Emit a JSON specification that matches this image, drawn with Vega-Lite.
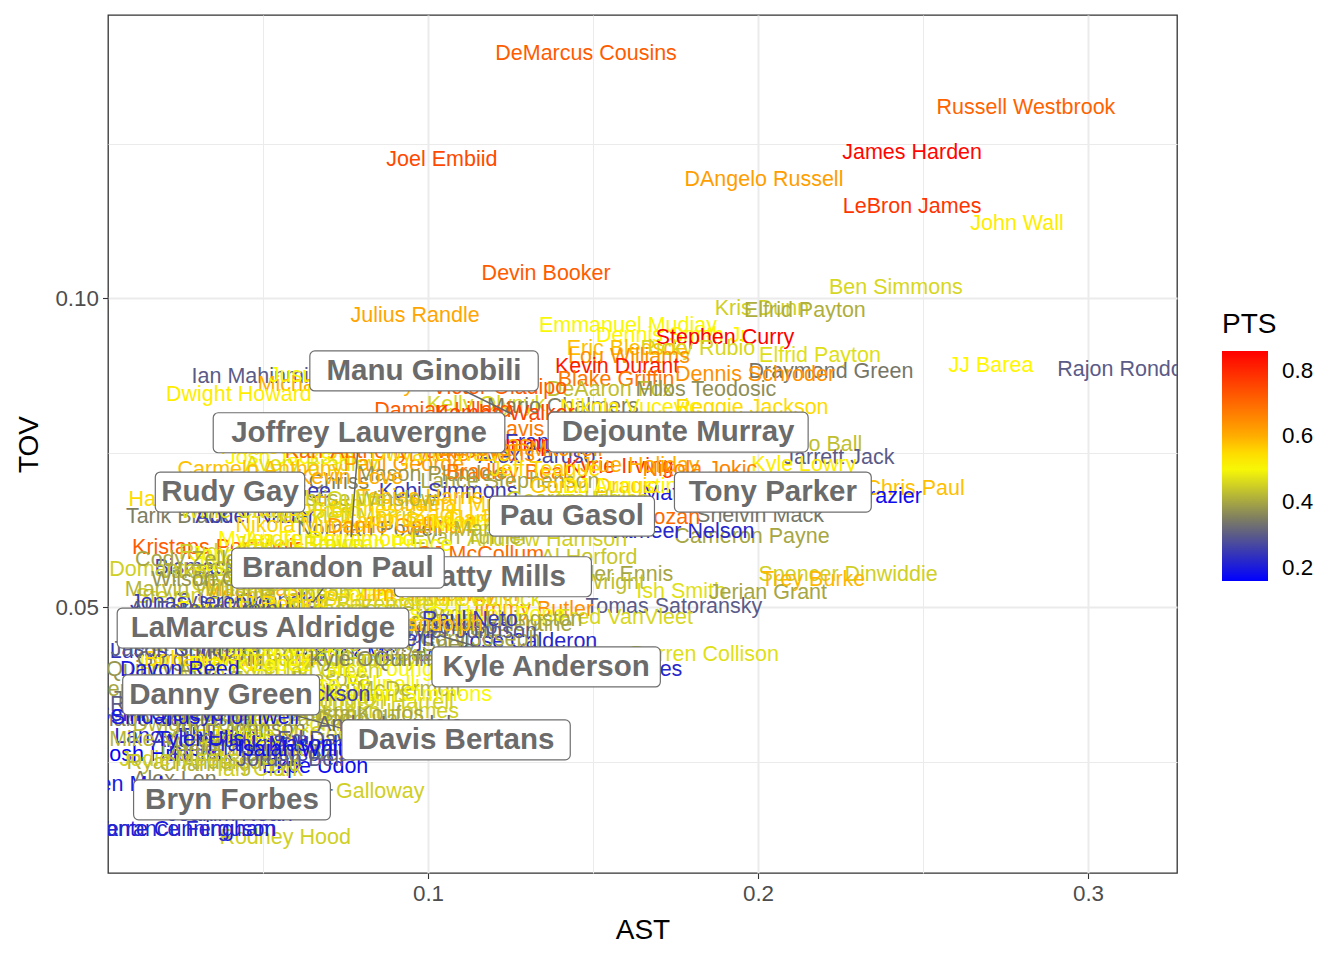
{
"$schema":"https://vega.github.io/schema/vega-lite/v6.json",
"width":1069,"height":858,
"autosize":{"type":"none"},
"padding":{"left":108,"top":15,"right":167,"bottom":87},
"background":"white",
"config":{"font":"Liberation Sans","view":{"stroke":"#333333","strokeWidth":1.3},
"axis":{"domain":false,"gridColor":"#EBEBEB","tickColor":"#333333","tickWidth":1.1,"tickSize":5.5,"labelFontSize":22.4,"labelColor":"#4D4D4D","labelPadding":4,"titleFontSize":28,"titleFontWeight":"normal","titleColor":"#000000"}},
"datasets":{
"players":[
{"player":"DeMarcus Cousins","AST":0.1479,"TOV":0.1395,"PTS":0.72},
{"player":"Russell Westbrook","AST":0.2812,"TOV":0.1307,"PTS":0.71},
{"player":"Joel Embiid","AST":0.1042,"TOV":0.1223,"PTS":0.75},
{"player":"James Harden","AST":0.2467,"TOV":0.1235,"PTS":0.85},
{"player":"DAngelo Russell","AST":0.2018,"TOV":0.1191,"PTS":0.62},
{"player":"LeBron James","AST":0.2467,"TOV":0.1147,"PTS":0.78},
{"player":"John Wall","AST":0.2785,"TOV":0.112,"PTS":0.53},
{"player":"Devin Booker","AST":0.1358,"TOV":0.1039,"PTS":0.72},
{"player":"Ben Simmons","AST":0.2418,"TOV":0.1016,"PTS":0.46},
{"player":"Julius Randle","AST":0.0961,"TOV":0.0971,"PTS":0.61},
{"player":"Kris Dunn","AST":0.2012,"TOV":0.0982,"PTS":0.45},
{"player":"Elfrid Payton","AST":0.2142,"TOV":0.0979,"PTS":0.41},
{"player":"Emmanuel Mudiay","AST":0.1606,"TOV":0.0955,"PTS":0.5},
{"player":"Dennis Smith Jr","AST":0.1739,"TOV":0.0939,"PTS":0.52},
{"player":"Stephen Curry","AST":0.19,"TOV":0.0935,"PTS":0.86},
{"player":"Eric Bledsoe","AST":0.1603,"TOV":0.0917,"PTS":0.58},
{"player":"Ricky Rubio","AST":0.1818,"TOV":0.0917,"PTS":0.46},
{"player":"Lou Williams","AST":0.1609,"TOV":0.0905,"PTS":0.64},
{"player":"Elfrid Payton","AST":0.2188,"TOV":0.0906,"PTS":0.47},
{"player":"Kevin Durant","AST":0.1573,"TOV":0.0888,"PTS":0.82},
{"player":"Draymond Green","AST":0.2221,"TOV":0.088,"PTS":0.34},
{"player":"Dennis Schroder","AST":0.1991,"TOV":0.0875,"PTS":0.64},
{"player":"Blake Griffin","AST":0.157,"TOV":0.0867,"PTS":0.68},
{"player":"DeAaron Fox","AST":0.1552,"TOV":0.0851,"PTS":0.43},
{"player":"Milos Teodosic","AST":0.1842,"TOV":0.0851,"PTS":0.37},
{"player":"Victor Oladipo","AST":0.1218,"TOV":0.0854,"PTS":0.72},
{"player":"Kelly Olynyk","AST":0.1176,"TOV":0.0827,"PTS":0.46},
{"player":"Mario Chalmers","AST":0.1409,"TOV":0.0824,"PTS":0.35},
{"player":"Reggie Jackson","AST":0.1982,"TOV":0.0822,"PTS":0.55},
{"player":"Nikola Vucevic","AST":0.1612,"TOV":0.0822,"PTS":0.53},
{"player":"Damian Lillard","AST":0.1045,"TOV":0.0817,"PTS":0.72},
{"player":"Kemba Walker","AST":0.1233,"TOV":0.0812,"PTS":0.76},
{"player":"Anthony Davis","AST":0.1142,"TOV":0.0786,"PTS":0.68},
{"player":"Frank Ntilikina","AST":0.1439,"TOV":0.0765,"PTS":0.24},
{"player":"Alex Caruso","AST":0.133,"TOV":0.0743,"PTS":0.27},
{"player":"Lonzo Ball","AST":0.2164,"TOV":0.0762,"PTS":0.43},
{"player":"Jarrett Jack","AST":0.2245,"TOV":0.0741,"PTS":0.3},
{"player":"Kyle Lowry","AST":0.2139,"TOV":0.073,"PTS":0.53},
{"player":"Chris Paul","AST":0.2476,"TOV":0.0691,"PTS":0.58},
{"player":"Tim Frazier","AST":0.2333,"TOV":0.0678,"PTS":0.18},
{"player":"Shelvin Mack","AST":0.2006,"TOV":0.0647,"PTS":0.34},
{"player":"Cameron Payne","AST":0.1982,"TOV":0.0613,"PTS":0.4},
{"player":"Jameer Nelson","AST":0.177,"TOV":0.0621,"PTS":0.22},
{"player":"Matthew Dellavedova","AST":0.1961,"TOV":0.0683,"PTS":0.2},
{"player":"DeMar DeRozan","AST":0.1582,"TOV":0.0644,"PTS":0.7},
{"player":"Andrew Harrison","AST":0.1361,"TOV":0.0608,"PTS":0.45},
{"player":"Al Horford","AST":0.1488,"TOV":0.0579,"PTS":0.44},
{"player":"Tyler Ennis","AST":0.1582,"TOV":0.0552,"PTS":0.4},
{"player":"Delon Wright","AST":0.147,"TOV":0.0539,"PTS":0.43},
{"player":"Ish Smith","AST":0.1767,"TOV":0.0524,"PTS":0.47},
{"player":"Jerian Grant","AST":0.203,"TOV":0.0523,"PTS":0.4},
{"player":"Spencer Dinwiddie","AST":0.2273,"TOV":0.0552,"PTS":0.45},
{"player":"Trey Burke","AST":0.2167,"TOV":0.0544,"PTS":0.59},
{"player":"Tomas Satoransky","AST":0.1745,"TOV":0.05,"PTS":0.3},
{"player":"Jimmy Butler","AST":0.1312,"TOV":0.0495,"PTS":0.64},
{"player":"Fred VanVleet","AST":0.1597,"TOV":0.0482,"PTS":0.46},
{"player":"Denzel Valentine","AST":0.1194,"TOV":0.0471,"PTS":0.4},
{"player":"Jose Calderon","AST":0.1303,"TOV":0.0443,"PTS":0.22},
{"player":"Darren Collison","AST":0.1839,"TOV":0.0422,"PTS":0.47},
{"player":"Tyus Jones","AST":0.1606,"TOV":0.0398,"PTS":0.22},
{"player":"Stanley Johnson","AST":0.1006,"TOV":0.0466,"PTS":0.3},
{"player":"Patrick McCaw","AST":0.0815,"TOV":0.0422,"PTS":0.2},
{"player":"Montrezl Harrell","AST":0.0848,"TOV":0.0345,"PTS":0.45},
{"player":"Richaun Holmes","AST":0.0855,"TOV":0.033,"PTS":0.45},
{"player":"Rodney Hood","AST":0.0567,"TOV":0.0126,"PTS":0.45},
{"player":"Langston Galloway","AST":0.0712,"TOV":0.0201,"PTS":0.45},
{"player":"Ekpe Udoh","AST":0.0658,"TOV":0.0241,"PTS":0.18},
{"player":"Josh Huestis","AST":0.0188,"TOV":0.026,"PTS":0.17},
{"player":"Patrick Patterson","AST":0.0461,"TOV":0.026,"PTS":0.25},
{"player":"Lance Thomas","AST":0.0264,"TOV":0.029,"PTS":0.22},
{"player":"Andre Roberson","AST":0.04,"TOV":0.0283,"PTS":0.25},
{"player":"CJ Miles","AST":0.0415,"TOV":0.0288,"PTS":0.52},
{"player":"Alex Len","AST":0.0233,"TOV":0.022,"PTS":0.35},
{"player":"Ben McLemore","AST":0.0182,"TOV":0.0212,"PTS":0.2},
{"player":"Dante Cunningham","AST":0.0258,"TOV":0.0139,"PTS":0.2},
{"player":"Terrance Ferguson","AST":0.0267,"TOV":0.0139,"PTS":0.22},
{"player":"JJ Barea","AST":0.2706,"TOV":0.089,"PTS":0.52},
{"player":"Rajon Rondo","AST":0.3097,"TOV":0.0883,"PTS":0.3},
{"player":"Ian Mahinmi","AST":0.0461,"TOV":0.0872,"PTS":0.3},
{"player":"Michael Beasley","AST":0.0721,"TOV":0.0859,"PTS":0.6},
{"player":"Jusuf Nurkic","AST":0.0697,"TOV":0.0874,"PTS":0.5},
{"player":"Dwight Howard","AST":0.0427,"TOV":0.0843,"PTS":0.53},
{"player":"Josh Jackson","AST":0.0582,"TOV":0.0741,"PTS":0.52},
{"player":"Avery Bradley","AST":0.0648,"TOV":0.073,"PTS":0.47},
{"player":"Paul George","AST":0.0927,"TOV":0.073,"PTS":0.62},
{"player":"Mason Plumlee","AST":0.1009,"TOV":0.0714,"PTS":0.38},
{"player":"Bradley Beal","AST":0.1239,"TOV":0.0717,"PTS":0.68},
{"player":"Lance Stephenson","AST":0.1248,"TOV":0.0702,"PTS":0.4},
{"player":"Goran Dragic","AST":0.1503,"TOV":0.0694,"PTS":0.57},
{"player":"DJ Augustin","AST":0.1582,"TOV":0.0694,"PTS":0.52},
{"player":"Kyrie Irving","AST":0.1582,"TOV":0.0727,"PTS":0.78},
{"player":"Jrue Holiday","AST":0.1642,"TOV":0.0728,"PTS":0.6},
{"player":"Kobi Simmons","AST":0.1061,"TOV":0.0686,"PTS":0.25},
{"player":"Marquese Chriss","AST":0.0576,"TOV":0.0701,"PTS":0.35},
{"player":"Alonzo Gee","AST":0.0536,"TOV":0.0686,"PTS":0.25},
{"player":"Tarik Black","AST":0.0242,"TOV":0.0646,"PTS":0.35},
{"player":"Abdel Nader","AST":0.0476,"TOV":0.0646,"PTS":0.25},
{"player":"Markieff Morris","AST":0.0752,"TOV":0.0646,"PTS":0.45},
{"player":"Jamal Murray","AST":0.1127,"TOV":0.0665,"PTS":0.56},
{"player":"Zach LaVine","AST":0.1142,"TOV":0.0649,"PTS":0.56},
{"player":"Norman Powell","AST":0.0824,"TOV":0.0625,"PTS":0.35},
{"player":"Kristaps Porzingis","AST":0.0364,"TOV":0.0595,"PTS":0.72},
{"player":"Bismack Biyombo","AST":0.043,"TOV":0.0563,"PTS":0.27},
{"player":"Tyson Chandler","AST":0.0461,"TOV":0.0508,"PTS":0.28},
{"player":"Steven Adams","AST":0.0324,"TOV":0.0516,"PTS":0.45},
{"player":"Jonas Jerebko","AST":0.0309,"TOV":0.0506,"PTS":0.25},
{"player":"Lucas Nogueira","AST":0.0264,"TOV":0.0427,"PTS":0.24},
{"player":"Larry Nance Jr","AST":0.0339,"TOV":0.0409,"PTS":0.52},
{"player":"Mike Muscala","AST":0.0233,"TOV":0.0285,"PTS":0.42},
{"player":"Ryan Anderson","AST":0.0309,"TOV":0.0248,"PTS":0.42},
{"player":"Hassan Whiteside","AST":0.0355,"TOV":0.0673,"PTS":0.55},
{"player":"Rudy Gobert","AST":0.043,"TOV":0.0587,"PTS":0.45},
{"player":"Jakob Poeltl","AST":0.0367,"TOV":0.0557,"PTS":0.42},
{"player":"Marc Gasol","AST":0.0491,"TOV":0.0528,"PTS":0.6},
{"player":"Klay Thompson","AST":0.0703,"TOV":0.077,"PTS":0.62},
{"player":"Andrew Wiggins","AST":0.0612,"TOV":0.0757,"PTS":0.55},
{"player":"Karl-Anthony Towns","AST":0.0855,"TOV":0.0751,"PTS":0.7},
{"player":"Carmelo Anthony","AST":0.0491,"TOV":0.0722,"PTS":0.58},
{"player":"Kevin Love","AST":0.0764,"TOV":0.0709,"PTS":0.6},
{"player":"Tobias Harris","AST":0.0976,"TOV":0.0676,"PTS":0.58},
{"player":"Evan Fournier","AST":0.0855,"TOV":0.0665,"PTS":0.58},
{"player":"Harrison Barnes","AST":0.0673,"TOV":0.0657,"PTS":0.55},
{"player":"Nikola Mirotic","AST":0.0612,"TOV":0.0631,"PTS":0.56},
{"player":"Aaron Gordon","AST":0.0945,"TOV":0.0638,"PTS":0.56},
{"player":"Myles Turner","AST":0.0552,"TOV":0.0608,"PTS":0.52},
{"player":"Andre Drummond","AST":0.0703,"TOV":0.0608,"PTS":0.53},
{"player":"Giannis Antetokounmpo","AST":0.1067,"TOV":0.0762,"PTS":0.82},
{"player":"Danilo Gallinari","AST":0.0915,"TOV":0.0629,"PTS":0.62},
{"player":"Tyreke Evans","AST":0.1127,"TOV":0.0746,"PTS":0.64},
{"player":"Dwyane Wade","AST":0.1036,"TOV":0.0746,"PTS":0.55},
{"player":"Nicolas Batum","AST":0.1218,"TOV":0.0633,"PTS":0.5},
{"player":"Evan Turner","AST":0.1127,"TOV":0.0612,"PTS":0.42},
{"player":"Isaiah Thomas","AST":0.1097,"TOV":0.0762,"PTS":0.6},
{"player":"Jeff Teague","AST":0.1355,"TOV":0.0722,"PTS":0.55},
{"player":"George Hill","AST":0.14,"TOV":0.0673,"PTS":0.45},
{"player":"Joe Ingles","AST":0.1521,"TOV":0.0673,"PTS":0.47},
{"player":"Donovan Mitchell","AST":0.1279,"TOV":0.0754,"PTS":0.64},
{"player":"Nikola Jokic","AST":0.1824,"TOV":0.0722,"PTS":0.66},
{"player":"Jordan Clarkson","AST":0.1067,"TOV":0.0641,"PTS":0.56},
{"player":"Marcus Smart","AST":0.1279,"TOV":0.0625,"PTS":0.42},
{"player":"Justise Winslow","AST":0.0794,"TOV":0.0673,"PTS":0.42},
{"player":"Kelly Oubre","AST":0.0703,"TOV":0.0673,"PTS":0.46},
{"player":"Willie Cauley-Stein","AST":0.0521,"TOV":0.0654,"PTS":0.47},
{"player":"Jonas Valanciunas","AST":0.0552,"TOV":0.0584,"PTS":0.5},
{"player":"Serge Ibaka","AST":0.0612,"TOV":0.056,"PTS":0.45},
{"player":"DeAndre Jordan","AST":0.0521,"TOV":0.0544,"PTS":0.4},
{"player":"Clint Capela","AST":0.0461,"TOV":0.0536,"PTS":0.45},
{"player":"Enes Kanter","AST":0.0673,"TOV":0.0576,"PTS":0.5},
{"player":"Trevor Ariza","AST":0.0794,"TOV":0.0552,"PTS":0.42},
{"player":"Wesley Matthews","AST":0.0855,"TOV":0.0528,"PTS":0.45},
{"player":"Otto Porter","AST":0.0733,"TOV":0.0519,"PTS":0.5},
{"player":"Taj Gibson","AST":0.0612,"TOV":0.0519,"PTS":0.44},
{"player":"Thaddeus Young","AST":0.0703,"TOV":0.0544,"PTS":0.44},
{"player":"Khris Middleton","AST":0.0976,"TOV":0.0544,"PTS":0.6},
{"player":"Bojan Bogdanovic","AST":0.0945,"TOV":0.0511,"PTS":0.55},
{"player":"Robert Covington","AST":0.0885,"TOV":0.0568,"PTS":0.45},
{"player":"Dario Saric","AST":0.1006,"TOV":0.0568,"PTS":0.47},
{"player":"Tim Hardaway Jr","AST":0.1036,"TOV":0.0519,"PTS":0.6},
{"player":"Marvin Williams","AST":0.0309,"TOV":0.0528,"PTS":0.42},
{"player":"Kent Bazemore","AST":0.0794,"TOV":0.0503,"PTS":0.45},
{"player":"Josh Richardson","AST":0.0673,"TOV":0.0495,"PTS":0.45},
{"player":"JJ Redick","AST":0.0552,"TOV":0.0503,"PTS":0.55},
{"player":"Gary Harris","AST":0.04,"TOV":0.0495,"PTS":0.52},
{"player":"Paul Millsap","AST":0.0764,"TOV":0.0584,"PTS":0.52},
{"player":"Taurean Prince","AST":0.0855,"TOV":0.06,"PTS":0.5},
{"player":"Jaylen Brown","AST":0.0612,"TOV":0.06,"PTS":0.48},
{"player":"Jayson Tatum","AST":0.0491,"TOV":0.0568,"PTS":0.5},
{"player":"Domantas Sabonis","AST":0.0309,"TOV":0.056,"PTS":0.45},
{"player":"Cody Zeller","AST":0.0279,"TOV":0.0576,"PTS":0.4},
{"player":"Al-Farouq Aminu","AST":0.0339,"TOV":0.0495,"PTS":0.3},
{"player":"Wilson Chandler","AST":0.04,"TOV":0.0544,"PTS":0.38},
{"player":"CJ McCollum","AST":0.1158,"TOV":0.0584,"PTS":0.7},
{"player":"Eric Gordon","AST":0.1036,"TOV":0.056,"PTS":0.66},
{"player":"Jeremy Lamb","AST":0.1097,"TOV":0.0528,"PTS":0.55},
{"player":"Reggie Bullock","AST":0.1127,"TOV":0.0511,"PTS":0.47},
{"player":"Jae Crowder","AST":0.0976,"TOV":0.0487,"PTS":0.42},
{"player":"Josh Hart","AST":0.1067,"TOV":0.0463,"PTS":0.38},
{"player":"Cory Joseph","AST":0.1158,"TOV":0.0447,"PTS":0.4},
{"player":"Kentavious Caldwell-Pope","AST":0.1036,"TOV":0.0487,"PTS":0.5},
{"player":"Shaun Livingston","AST":0.1218,"TOV":0.0479,"PTS":0.4},
{"player":"Tony Snell","AST":0.0976,"TOV":0.0439,"PTS":0.38},
{"player":"Courtney Lee","AST":0.1097,"TOV":0.0422,"PTS":0.45},
{"player":"Garrett Temple","AST":0.0945,"TOV":0.0414,"PTS":0.38},
{"player":"Raul Neto","AST":0.1127,"TOV":0.0479,"PTS":0.25},
{"player":"Tyler Johnson","AST":0.1127,"TOV":0.046,"PTS":0.3},
{"player":"Marcin Gortat","AST":0.0491,"TOV":0.0422,"PTS":0.38},
{"player":"Gorgui Dieng","AST":0.0309,"TOV":0.0414,"PTS":0.35},
{"player":"Kyle Korver","AST":0.0582,"TOV":0.0401,"PTS":0.46},
{"player":"Mike Scott","AST":0.04,"TOV":0.039,"PTS":0.45},
{"player":"Jeff Green","AST":0.0703,"TOV":0.0395,"PTS":0.45},
{"player":"PJ Tucker","AST":0.0491,"TOV":0.0374,"PTS":0.36},
{"player":"Ersan Ilyasova","AST":0.0612,"TOV":0.0382,"PTS":0.42},
{"player":"Marco Belinelli","AST":0.0764,"TOV":0.0374,"PTS":0.5},
{"player":"Wayne Ellington","AST":0.0642,"TOV":0.035,"PTS":0.45},
{"player":"Joe Harris","AST":0.0794,"TOV":0.0358,"PTS":0.45},
{"player":"Doug McDermott","AST":0.0855,"TOV":0.0366,"PTS":0.42},
{"player":"Tristan Thompson","AST":0.0309,"TOV":0.035,"PTS":0.34},
{"player":"Trevor Booker","AST":0.0461,"TOV":0.0341,"PTS":0.4},
{"player":"Dewayne Dedmon","AST":0.0552,"TOV":0.0325,"PTS":0.42},
{"player":"Jarrett Allen","AST":0.037,"TOV":0.0317,"PTS":0.45},
{"player":"John Collins","AST":0.0612,"TOV":0.0309,"PTS":0.48},
{"player":"Zaza Pachulia","AST":0.0703,"TOV":0.0317,"PTS":0.42},
{"player":"Kosta Koufos","AST":0.0794,"TOV":0.0325,"PTS":0.4},
{"player":"Amir Johnson","AST":0.043,"TOV":0.0301,"PTS":0.35},
{"player":"JaVale McGee","AST":0.0552,"TOV":0.0293,"PTS":0.45},
{"player":"Ed Davis","AST":0.0673,"TOV":0.0285,"PTS":0.3},
{"player":"Nene","AST":0.0309,"TOV":0.0277,"PTS":0.4},
{"player":"Luc Mbah a Moute","AST":0.0733,"TOV":0.0277,"PTS":0.25},
{"player":"Jerami Grant","AST":0.0491,"TOV":0.0269,"PTS":0.45},
{"player":"David West","AST":0.0612,"TOV":0.0261,"PTS":0.36},
{"player":"Channing Frye","AST":0.04,"TOV":0.0244,"PTS":0.42},
{"player":"Ian Clark","AST":0.0491,"TOV":0.0236,"PTS":0.45},
{"player":"Thabo Sefolosha","AST":0.0218,"TOV":0.0317,"PTS":0.35},
{"player":"Justin Holiday","AST":0.0764,"TOV":0.0414,"PTS":0.45},
{"player":"Nick Young","AST":0.0855,"TOV":0.0398,"PTS":0.5},
{"player":"Pat Connaughton","AST":0.037,"TOV":0.0439,"PTS":0.42},
{"player":"Troy Daniels","AST":0.0612,"TOV":0.0439,"PTS":0.45},
{"player":"Shabazz Muhammad","AST":0.0491,"TOV":0.0447,"PTS":0.45},
{"player":"Maxi Kleber","AST":0.0673,"TOV":0.0447,"PTS":0.4},
{"player":"Salah Mejri","AST":0.0855,"TOV":0.0447,"PTS":0.25},
{"player":"Jonathon Simmons","AST":0.0915,"TOV":0.0358,"PTS":0.5},
{"player":"Quincy Acy","AST":0.0188,"TOV":0.0398,"PTS":0.38},
{"player":"Boban Marjanovic","AST":0.04,"TOV":0.0414,"PTS":0.55},
{"player":"Alec Burks","AST":0.0582,"TOV":0.0366,"PTS":0.5},
{"player":"Anthony Tolliver","AST":0.0642,"TOV":0.0414,"PTS":0.45},
{"player":"Kyle Kuzma","AST":0.0733,"TOV":0.0455,"PTS":0.55},
{"player":"Brook Lopez","AST":0.0461,"TOV":0.0406,"PTS":0.5},
{"player":"Dirk Nowitzki","AST":0.0552,"TOV":0.043,"PTS":0.5},
{"player":"Omri Casspi","AST":0.043,"TOV":0.0366,"PTS":0.45},
{"player":"Andre Iguodala","AST":0.0885,"TOV":0.0309,"PTS":0.32},
{"player":"Dwight Powell","AST":0.0309,"TOV":0.0309,"PTS":0.42},
{"player":"Royce ONeale","AST":0.0248,"TOV":0.0341,"PTS":0.3},
{"player":"Semi Ojeleye","AST":0.0188,"TOV":0.0325,"PTS":0.22},
{"player":"Daniel Theis","AST":0.037,"TOV":0.0269,"PTS":0.4},
{"player":"Jodie Meeks","AST":0.0248,"TOV":0.0252,"PTS":0.45},
{"player":"Malik Beasley","AST":0.0339,"TOV":0.0366,"PTS":0.3},
{"player":"Kyle OQuinn","AST":0.0824,"TOV":0.0414,"PTS":0.36},
{"player":"Jason Smith","AST":0.0218,"TOV":0.043,"PTS":0.3},
{"player":"Mike James","AST":0.0794,"TOV":0.0471,"PTS":0.55},
{"player":"Lauri Markkanen","AST":0.0612,"TOV":0.0471,"PTS":0.5},
{"player":"Bobby Portis","AST":0.0703,"TOV":0.0471,"PTS":0.55},
{"player":"Robin Lopez","AST":0.043,"TOV":0.0471,"PTS":0.4},
{"player":"TJ Warren","AST":0.0521,"TOV":0.0479,"PTS":0.62},
{"player":"Zach Randolph","AST":0.0945,"TOV":0.0471,"PTS":0.58},
{"player":"Kevon Looney","AST":0.0309,"TOV":0.0463,"PTS":0.3},
{"player":"Jordan Bell","AST":0.0582,"TOV":0.0252,"PTS":0.3},
{"player":"Dragan Bender","AST":0.0491,"TOV":0.0196,"PTS":0.3},
{"player":"Aron Baynes","AST":0.0309,"TOV":0.0188,"PTS":0.35},
{"player":"Joakim Noah","AST":0.04,"TOV":0.0163,"PTS":0.2},
{"player":"Nemanja Bjelica","AST":0.0218,"TOV":0.0366,"PTS":0.4},
{"player":"Justin Jackson","AST":0.0612,"TOV":0.0358,"PTS":0.25},
{"player":"Frank Mason","AST":0.0521,"TOV":0.0277,"PTS":0.22},
{"player":"Tyler Ulis","AST":0.0309,"TOV":0.0285,"PTS":0.2},
{"player":"Isaiah Whitehead","AST":0.0673,"TOV":0.0269,"PTS":0.18},
{"player":"Davon Reed","AST":0.0248,"TOV":0.0398,"PTS":0.2},
{"player":"Sindarius Thornwell","AST":0.0324,"TOV":0.032,"PTS":0.2}
],
"spurs":[
{"player":"Patty Mills","pAST":0.1197,"pTOV":0.0549,"AST":0.1197,"TOV":0.0549},
{"player":"Manu Ginobili","pAST":0.1255,"pTOV":0.0812,"AST":0.0988,"TOV":0.0882},
{"player":"Joffrey Lauvergne","pAST":0.0767,"pTOV":0.0613,"AST":0.0791,"TOV":0.0782},
{"player":"Dejounte Murray","pAST":0.1758,"pTOV":0.0783,"AST":0.1758,"TOV":0.0783},
{"player":"Rudy Gay","pAST":0.04,"pTOV":0.0686,"AST":0.04,"TOV":0.0686},
{"player":"Tony Parker","pAST":0.2045,"pTOV":0.0686,"AST":0.2045,"TOV":0.0686},
{"player":"Pau Gasol","pAST":0.1436,"pTOV":0.0647,"AST":0.1436,"TOV":0.0647},
{"player":"Brandon Paul","pAST":0.0652,"pTOV":0.0508,"AST":0.0727,"TOV":0.0563},
{"player":"LaMarcus Aldridge","pAST":0.05,"pTOV":0.0466,"AST":0.05,"TOV":0.0466},
{"player":"Kyle Anderson","pAST":0.1039,"pTOV":0.0453,"AST":0.1358,"TOV":0.0403},
{"player":"Danny Green","pAST":0.0736,"pTOV":0.0304,"AST":0.0373,"TOV":0.0358},
{"player":"Davis Bertans","pAST":0.1085,"pTOV":0.0285,"AST":0.1085,"TOV":0.0285},
{"player":"Bryn Forbes","pAST":0.0406,"pTOV":0.0188,"AST":0.0406,"TOV":0.0188}
]
},
"layer":[
{"data":{"name":"players"},
 "mark":{"type":"text","fontSize":21.5,"clip":true,"baseline":"middle","align":"center"},
 "encoding":{
  "x":{"field":"AST","type":"quantitative","title":"AST","scale":{"domain":[0.00303,0.32697],"nice":false,"zero":false},
       "axis":{"values":[0.05,0.1,0.15,0.2,0.25,0.3],"titlePadding":12,
               "labelExpr":"abs(datum.value*10-round(datum.value*10))<1e-6 ? format(datum.value,'.1f') : ''",
               "gridWidth":{"condition":{"test":"abs(datum.value*10-round(datum.value*10))<1e-6","value":2},"value":1},
               "tickOpacity":{"condition":{"test":"abs(datum.value*10-round(datum.value*10))<1e-6","value":1},"value":0}}},
  "y":{"field":"TOV","type":"quantitative","title":"TOV","scale":{"domain":[0.00696,0.1458],"nice":false,"zero":false},
       "axis":{"values":[0.025,0.05,0.075,0.1,0.125],"titlePadding":11,
               "labelExpr":"abs(datum.value*20-round(datum.value*20))<1e-6 ? format(datum.value,'.2f') : ''",
               "gridWidth":{"condition":{"test":"abs(datum.value*20-round(datum.value*20))<1e-6","value":2},"value":1},
               "tickOpacity":{"condition":{"test":"abs(datum.value*20-round(datum.value*20))<1e-6","value":1},"value":0}}},
  "text":{"field":"player","type":"nominal"},
  "color":{"field":"PTS","type":"quantitative","title":"PTS",
     "scale":{"domain":[0.16,0.33,0.51,0.61,0.86],"range":["#0000FF","#6E6E6E","#FFFF00","#FFA500","#FF0000"],"interpolate":"rgb"},
     "legend":{"orient":"none","legendX":1114,"legendY":296,"direction":"vertical","gradientLength":230,"gradientThickness":46,"gradientStrokeWidth":0,
               "values":[0.2,0.4,0.6,0.8],"format":".1f","titleFontSize":28,"titleFontWeight":"normal","titleColor":"#000000","titlePadding":12,
               "labelFontSize":22.4,"labelColor":"#000000","labelOffset":14}}
 }},
{"data":{"name":"spurs"},
 "mark":{"type":"rule","color":"#666666","strokeWidth":1.5},
 "encoding":{
  "x":{"field":"pAST","type":"quantitative","title":"AST"},
  "y":{"field":"pTOV","type":"quantitative","title":"TOV"},
  "x2":{"field":"AST"},"y2":{"field":"TOV"}}},
{"data":{"name":"spurs"},
 "transform":[{"filter":"datum.player != 'Brandon Paul'"}],
 "mark":{"type":"rect","fill":"white","stroke":"#6E6E6E","strokeWidth":1.2,"cornerRadius":5,
   "xOffset":{"expr":"-(length(datum.player)*7.9+11.5)"},"x2Offset":{"expr":"length(datum.player)*7.9+11.5"},
   "yOffset":-20,"y2Offset":20},
 "encoding":{
  "x":{"field":"AST","type":"quantitative","title":"AST"},"x2":{"field":"AST"},
  "y":{"field":"TOV","type":"quantitative","title":"TOV"},"y2":{"field":"TOV"}}},
{"data":{"name":"spurs"},
 "transform":[{"filter":"datum.player != 'Brandon Paul'"}],
 "mark":{"type":"text","fontSize":29.5,"fontWeight":"bold","color":"#6B6B6B","baseline":"middle","align":"center"},
 "encoding":{
  "x":{"field":"AST","type":"quantitative","title":"AST"},
  "y":{"field":"TOV","type":"quantitative","title":"TOV"},
  "text":{"field":"player","type":"nominal"}}},
{"data":{"name":"spurs"},
 "transform":[{"filter":"datum.player == 'Brandon Paul'"}],
 "mark":{"type":"rect","fill":"white","stroke":"#6E6E6E","strokeWidth":1.2,"cornerRadius":5,
   "xOffset":{"expr":"-(length(datum.player)*7.9+11.5)"},"x2Offset":{"expr":"length(datum.player)*7.9+11.5"},
   "yOffset":-20,"y2Offset":20},
 "encoding":{
  "x":{"field":"AST","type":"quantitative","title":"AST"},"x2":{"field":"AST"},
  "y":{"field":"TOV","type":"quantitative","title":"TOV"},"y2":{"field":"TOV"}}},
{"data":{"name":"spurs"},
 "transform":[{"filter":"datum.player == 'Brandon Paul'"}],
 "mark":{"type":"text","fontSize":29.5,"fontWeight":"bold","color":"#6B6B6B","baseline":"middle","align":"center"},
 "encoding":{
  "x":{"field":"AST","type":"quantitative","title":"AST"},
  "y":{"field":"TOV","type":"quantitative","title":"TOV"},
  "text":{"field":"player","type":"nominal"}}}
]
}
